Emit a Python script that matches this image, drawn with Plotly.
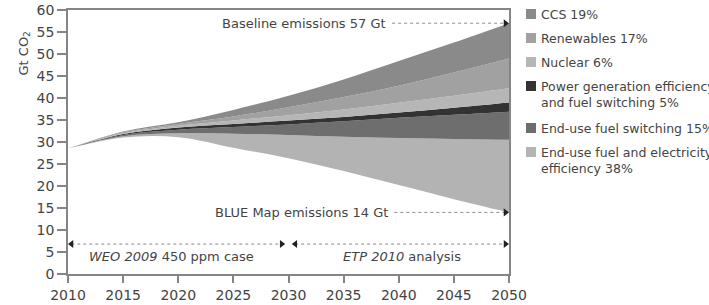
import plotly.graph_objects as go

# ---------------- data ----------------
years = [2010, 2015, 2020, 2025, 2030, 2035, 2040, 2045, 2050]
blue_map = [28.5, 31.0, 31.1, 28.7, 26.3, 23.4, 20.2, 17.0, 14.0]
eff_top = [28.5, 31.3, 32.0, 31.9, 31.6, 31.2, 30.9, 30.7, 30.5]
fuelsw_top = [28.5, 31.6, 32.8, 33.4, 34.0, 34.7, 35.5, 36.2, 36.9]
powergen_top = [28.5, 31.8, 33.3, 34.1, 34.9, 35.7, 36.7, 37.8, 39.0]
nuclear_top = [28.5, 32.0, 33.7, 34.9, 36.1, 37.4, 38.9, 40.5, 42.2]
renew_top = [28.5, 32.2, 34.1, 35.8, 37.9, 40.2, 42.8, 45.8, 49.0]
baseline = [28.5, 32.4, 34.5, 37.3, 40.5, 44.2, 48.4, 52.6, 57.0]

layer_names = [
    "End-use fuel and electricity<br>efficiency 38%",
    "End-use fuel switching 15%",
    "Power generation efficiency<br>and fuel switching 5%",
    "Nuclear 6%",
    "Renewables 17%",
    "CCS 19%",
]
layer_tops = [eff_top, fuelsw_top, powergen_top, nuclear_top, renew_top, baseline]
layer_colors = ["#b3b3b3", "#6e6e6e", "#333333", "#b6b6b6", "#a1a1a1", "#8a8a8a"]

baseline_label = "Baseline emissions 57 Gt"
blue_label = "BLUE Map emissions 14 Gt"
baseline_value = 57
blue_value = 14
period_y = 6.8
periods = [("<i>WEO 2009</i> 450 ppm case", 2010, 2030), ("<i>ETP 2010</i> analysis", 2030, 2050)]

# ---------------- figure ----------------
W, H = 709, 305
L, R, T, B = 68, 200, 10, 31
pw, ph = W - L - R, H - T - B
FONT = "DejaVu Sans"
TXT = "#444444"

fig = go.Figure()
fig.add_trace(go.Scatter(x=years, y=blue_map, mode="lines", line=dict(width=0, shape="spline"),
                         showlegend=False, hoverinfo="skip"))
for name, top, col in zip(layer_names, layer_tops, layer_colors):
    fig.add_trace(go.Scatter(x=years, y=top, mode="lines", name=name,
                             line=dict(width=0, shape="spline", color=col),
                             fill="tonexty", fillcolor=col, showlegend=False))

DOT = "#8a8a8a"
HEAD = "#222222"
hx = 0.32  # half-size of arrowhead in years


def dotted(x0, x1, y):
    fig.add_trace(go.Scatter(x=[x0, x1], y=[y, y], mode="lines",
                             line=dict(color=DOT, width=1, dash="dot"),
                             showlegend=False, hoverinfo="skip", cliponaxis=False))


def head(x, y, direction):
    sym = "triangle-right" if direction == "right" else "triangle-left"
    xc = x - hx if direction == "right" else x + hx
    fig.add_trace(go.Scatter(x=[xc], y=[y], mode="markers",
                             marker=dict(symbol=sym, size=7, color=HEAD),
                             showlegend=False, hoverinfo="skip", cliponaxis=False))


# baseline & BLUE map callouts
dotted(2039.4, 2049.8, baseline_value)
head(2050, baseline_value, "right")
fig.add_annotation(x=2039.0, y=baseline_value, text=baseline_label, showarrow=False,
                   xanchor="right", yanchor="middle", font=dict(family=FONT, size=13, color=TXT))
dotted(2039.6, 2049.8, blue_value)
head(2050, blue_value, "right")
fig.add_annotation(x=2039.2, y=blue_value, text=blue_label, showarrow=False,
                   xanchor="right", yanchor="middle", font=dict(family=FONT, size=13, color=TXT))

# period double arrows
for label, a, b in periods:
    gap = 0.3 if a == 2030 else 0.0
    gap2 = 0.3 if b == 2030 else 0.0
    dotted(a + gap + 0.3, b - gap2 - 0.3, period_y)
    head(a + gap, period_y, "left")
    head(b - gap2, period_y, "right")
fig.add_annotation(x=2019.4, y=3.9, text=periods[0][0], showarrow=False,
                   font=dict(family=FONT, size=13, color=TXT))
fig.add_annotation(x=2040.3, y=3.9, text=periods[1][0], showarrow=False,
                   font=dict(family=FONT, size=13, color=TXT))

# manual legend (top to bottom)
legend_y = [14, 38, 62, 86, 128, 152]
for (name, col), py in zip(list(zip(layer_names, layer_colors))[::-1], legend_y):
    fig.add_shape(type="rect", xref="paper", yref="paper",
                  x0=(526 - L) / pw, x1=(536 - L) / pw,
                  y0=(H - B - (py + 5)) / ph, y1=(H - B - (py - 5)) / ph,
                  fillcolor=col, line=dict(width=0))
    fig.add_annotation(xref="paper", yref="paper", x=(539 - L) / pw, y=(H - B - (py - 9)) / ph,
                       text=name, showarrow=False, xanchor="left", yanchor="top", align="left",
                       font=dict(family=FONT, size=12.5, color=TXT))

# y-axis title
fig.add_annotation(xref="paper", yref="paper", x=(13 - L) / pw, y=(H - B - 30) / ph,
                   text="Gt CO<sub>2</sub>", showarrow=False, textangle=-90,
                   font=dict(family=FONT, size=13, color=TXT))

AX = "#858585"
fig.update_xaxes(range=[2010, 2050], dtick=5, tick0=2010, showgrid=False, zeroline=False,
                 showline=True, mirror=True, linecolor=AX, linewidth=1.5, automargin=False,
                 ticks="outside", ticklen=7, tickcolor=AX, tickwidth=1.5,
                 tickfont=dict(family=FONT, size=14, color=TXT))
fig.update_yaxes(range=[0, 60], dtick=5, showgrid=False, zeroline=False,
                 showline=True, mirror=True, linecolor=AX, linewidth=1.5, automargin=False,
                 ticks="outside", ticklen=9, tickcolor=AX, tickwidth=1.5,
                 tickfont=dict(family=FONT, size=14, color=TXT))

fig.update_layout(width=W, height=H, margin=dict(l=L, r=R, t=T, b=B, pad=0, autoexpand=False),
                  paper_bgcolor="white", plot_bgcolor="white", showlegend=False,
                  font=dict(family=FONT, color=TXT))

fig.write_html("out.html")
